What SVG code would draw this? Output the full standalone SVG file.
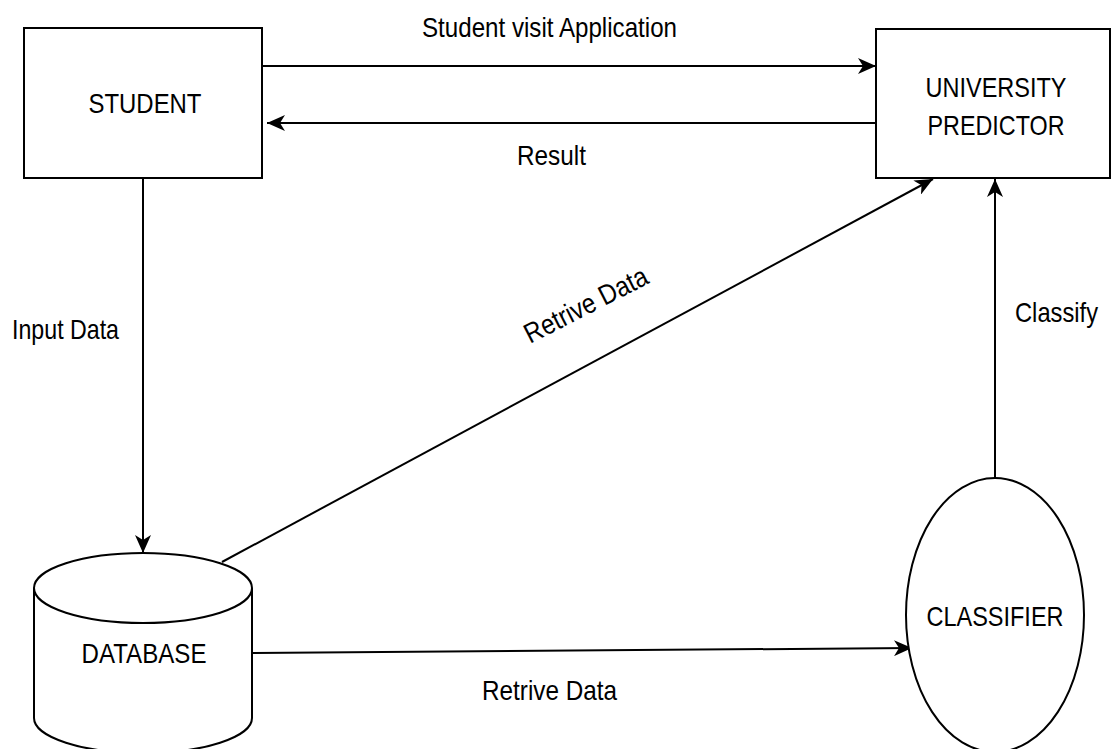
<svg xmlns="http://www.w3.org/2000/svg" width="1113" height="749" viewBox="0 0 1113 749">
  <style>
    .shape { fill: #ffffff; stroke: #000000; stroke-width: 2; }
    .edge { fill: none; stroke: #000000; stroke-width: 2; }
    .lbl { font-family: "Liberation Sans", Arial, sans-serif; font-size: 28px; fill: #000000; }
    .mid { text-anchor: middle; }
  </style>
  <defs>
    <marker id="arrow" markerUnits="userSpaceOnUse" markerWidth="18" markerHeight="16" viewBox="0 0 18 16" refX="18" refY="8" orient="auto">
      <path d="M0,0 L18,8 L0,16 L5,8 Z" fill="#000000"/>
    </marker>
  </defs>
  <rect width="1113" height="749" fill="#ffffff"/>

  <g id="connectors">
    <line class="edge" x1="262" y1="66" x2="876" y2="66" marker-end="url(#arrow)"/>
    <line class="edge" x1="876" y1="123" x2="267" y2="123" marker-end="url(#arrow)"/>
    <line class="edge" x1="143" y1="178" x2="143" y2="553" marker-end="url(#arrow)"/>
    <line class="edge" x1="222" y1="562" x2="933" y2="179" marker-end="url(#arrow)"/>
    <line class="edge" x1="252" y1="653" x2="912" y2="648" marker-end="url(#arrow)"/>
    <line class="edge" x1="995" y1="478" x2="995" y2="179" marker-end="url(#arrow)"/>
    <text class="lbl" x="422" y="37" textLength="255" lengthAdjust="spacingAndGlyphs">Student visit Application</text>
    <text class="lbl" x="517" y="165" textLength="69" lengthAdjust="spacingAndGlyphs">Result</text>
    <text class="lbl" x="12" y="339" textLength="107" lengthAdjust="spacingAndGlyphs">Input Data</text>
    <text class="lbl" x="1015" y="322" textLength="83" lengthAdjust="spacingAndGlyphs">Classify</text>
    <text class="lbl" x="482" y="700" textLength="135" lengthAdjust="spacingAndGlyphs">Retrive Data</text>
    <text class="lbl" transform="translate(530,344) rotate(-27)" x="0" y="0" textLength="135" lengthAdjust="spacingAndGlyphs">Retrive Data</text>
  </g>

  <g id="student">
    <rect class="shape" x="24" y="28" width="238" height="150"/>
    <text class="lbl mid" x="145" y="113" textLength="113" lengthAdjust="spacingAndGlyphs">STUDENT</text>
  </g>

  <g id="university-predictor">
    <rect class="shape" x="876" y="29" width="234" height="149"/>
    <text class="lbl mid" x="996" y="97" textLength="141" lengthAdjust="spacingAndGlyphs">UNIVERSITY</text>
    <text class="lbl mid" x="996" y="135" textLength="137" lengthAdjust="spacingAndGlyphs">PREDICTOR</text>
  </g>

  <g id="database">
    <path class="shape" d="M34,588 A109,35 0 0 1 252,588 L252,718 A109,35 0 0 1 34,718 Z"/>
    <path class="edge" d="M34,588 A109,35 0 0 0 252,588"/>
    <text class="lbl mid" x="144" y="663" textLength="125" lengthAdjust="spacingAndGlyphs">DATABASE</text>
  </g>

  <g id="classifier">
    <ellipse class="shape" cx="995" cy="615" rx="89" ry="137"/>
    <text class="lbl mid" x="995" y="626" textLength="137" lengthAdjust="spacingAndGlyphs">CLASSIFIER</text>
  </g>
</svg>
